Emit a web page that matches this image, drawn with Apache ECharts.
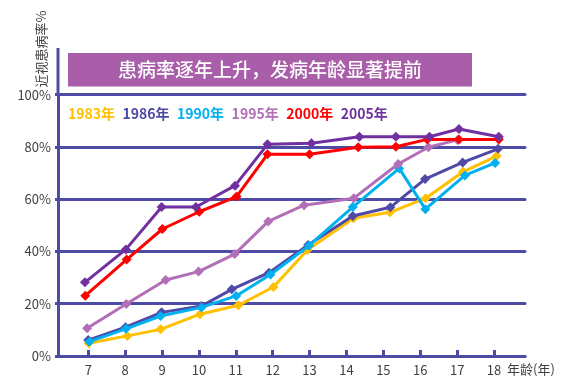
<!DOCTYPE html>
<html>
<head>
<meta charset="utf-8">
<script src="https://cdn.jsdelivr.net/npm/echarts@6/dist/echarts.min.js"></script>
<style>html,body{margin:0;padding:0;background:#fff;}#c{width:563px;height:384px;}</style>
</head>
<body>
<div id="c"></div>
<script>
// Ages (x positions as drawn) and prevalence (%) for each survey year
const ageTicks = [7, 8, 9, 10, 11, 12, 13, 14, 15, 16, 17, 18];
const yTicks = [0, 20, 40, 60, 80, 100];

const x1983 = [7.01, 8.06, 8.96, 10.03, 11.07, 12.02, 12.94, 14.19, 15.18, 16.15, 17.16, 18.07];
const y1983 = [4.9, 7.7, 10.2, 16.0, 19.4, 26.4, 40.6, 52.7, 55.0, 60.4, 70.5, 76.5];

const x1986 = [7.0, 8.01, 8.99, 10.07, 10.89, 11.9, 12.96, 14.17, 15.19, 16.13, 17.15, 18.11];
const y1986 = [6.1, 11.0, 16.7, 19.1, 25.5, 31.9, 42.5, 53.6, 56.9, 67.7, 74.1, 79.3];

const x1990 = [7.03, 8.02, 8.96, 10.07, 11.01, 11.94, 12.99, 14.17, 15.43, 16.14, 17.21, 18.03];
const y1990 = [5.5, 10.4, 15.3, 18.6, 23.0, 31.2, 42.3, 57.0, 71.8, 56.2, 69.1, 73.9];

const x1995 = [6.97, 8.03, 9.1, 9.99, 10.97, 11.88, 12.85, 14.2, 15.4, 16.22, 17.01];
const y1995 = [10.6, 19.9, 29.1, 32.3, 39.0, 51.5, 57.7, 60.4, 73.5, 79.9, 82.7];

const x2000 = [6.92, 8.04, 9.01, 10.01, 11.02, 11.86, 13.0, 14.32, 15.34, 16.19, 17.05, 18.13];
const y2000 = [23.1, 36.9, 48.6, 55.2, 61.0, 77.2, 77.2, 79.9, 80.1, 82.9, 82.9, 82.9];

const x2005 = [6.91, 8.02, 8.99, 9.92, 10.98, 11.86, 13.05, 14.35, 15.34, 16.25, 17.05, 18.13];
const y2005 = [28.2, 40.8, 57.0, 57.0, 65.2, 81.0, 81.4, 83.9, 83.9, 83.9, 86.9, 83.9];

const seriesNames = ['1983年', '1986年', '1990年', '1995年', '2000年', '2005年'];
const seriesX = [x1983, x1986, x1990, x1995, x2000, x2005];
const seriesY = [y1983, y1986, y1990, y1995, y2000, y2005];
const colors = ['#FFC000', '#4F4AA6', '#00B0F0', '#B26FB8', '#FF0000', '#7030A0'];

const axisColor = '#4E4BA5';
const chart = echarts.init(document.getElementById('c'), null, {renderer: 'canvas'});

const series = seriesNames.map((n, i) => ({
  name: n,
  type: 'line',
  data: seriesX[i].map((x, j) => [x, seriesY[i][j]]),
  symbol: 'diamond',
  symbolSize: 10,
  lineStyle: {width: 3, color: colors[i]},
  itemStyle: {color: colors[i]},
  z: 3 + i
}));

chart.setOption({
  animation: false,
  grid: {left: 58, top: 94.7, right: 38, bottom: 28},
  legend: {
    left: 58, top: 102,
    itemWidth: 0, itemHeight: 0, itemGap: 2.5,
    selectedMode: false,
    data: seriesNames.map((n, i) => ({name: n, icon: 'rect', textStyle: {color: colors[i]}})),
    textStyle: {fontSize: 14, fontWeight: 'bold', fontFamily: 'Noto Sans CJK SC'}
  },
  xAxis: {
    type: 'value',
    min: 6.18, max: 18.84,
    splitLine: {show: false},
    axisLine: {lineStyle: {color: axisColor, width: 3}},
    axisTick: {show: true, inside: true, length: 6, customValues: ageTicks, lineStyle: {color: axisColor, width: 3}},
    axisLabel: {customValues: ageTicks, color: '#404040', fontSize: 13, margin: 8, fontFamily: 'Noto Sans CJK SC'}
  },
  yAxis: {
    type: 'value',
    min: 0, max: 100, interval: 20,
    axisLine: {show: true, lineStyle: {color: axisColor, width: 3}},
    axisTick: {show: true, length: 3, lineStyle: {color: axisColor, width: 3}},
    splitLine: {lineStyle: {color: axisColor, width: 3, cap: 'round'}},
    axisLabel: {formatter: '{value}%', color: '#404040', fontSize: 13, margin: 7, fontFamily: 'Noto Sans CJK SC'}
  },
  graphic: [
    {type: 'line', shape: {x1: 58, y1: 48, x2: 58, y2: 95}, style: {stroke: axisColor, lineWidth: 3}},
    {type: 'rect', shape: {x: 68, y: 53, width: 404, height: 33.5}, style: {fill: '#A85EA9'}},
    {type: 'text', x: 270, y: 70, style: {text: '患病率逐年上升，发病年龄显著提前', fill: '#fff', fontSize: 19, fontWeight: 500, fontFamily: 'Noto Sans CJK SC', align: 'center', verticalAlign: 'middle'}},
    {type: 'text', x: 41, y: 49, rotation: Math.PI / 2, style: {text: '近视患病率%', fill: '#404040', fontSize: 13, fontFamily: 'Noto Sans CJK SC', align: 'center', verticalAlign: 'middle'}},
    {type: 'text', x: 507, y: 369, style: {text: '年龄(年)', fill: '#404040', fontSize: 13, fontFamily: 'Noto Sans CJK SC', align: 'left', verticalAlign: 'middle'}}
  ],
  series: series
});
</script>
</body>
</html>
